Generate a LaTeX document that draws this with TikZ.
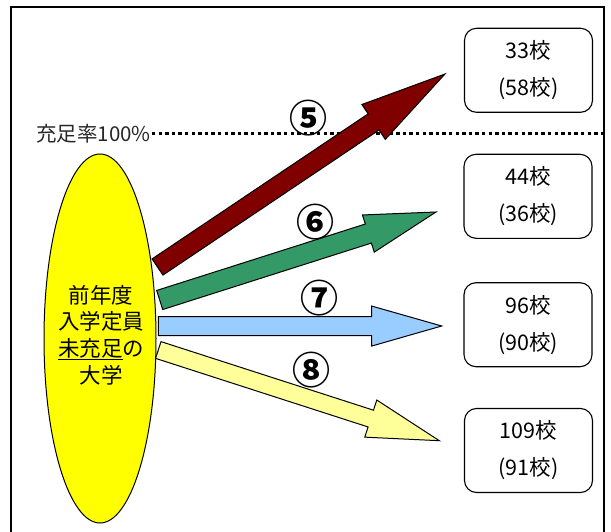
\documentclass[tikz,border=0pt]{standalone}
\usepackage{fontspec}
\newfontfamily\jp{Noto Sans CJK JP}
\usetikzlibrary{calc,shapes.geometric}
\definecolor{arrred}{HTML}{800000}
\definecolor{arrgreen}{HTML}{339966}
\definecolor{arrblue}{HTML}{99CCFF}
\definecolor{arryellow}{HTML}{FFFF99}
\definecolor{ellyellow}{HTML}{FFFF00}
\newcommand\myblockarrow[6]{%
  \coordinate (hb) at ($(#2)!#5!(#1)$);
  \filldraw[blk, fill=#6] ($(#1)!#3!90:(#2)$) -- ($(hb)!#3!-90:(#1)$) -- ($(hb)!#4!-90:(#1)$) -- (#2) -- ($(hb)!#4!90:(#1)$) -- ($(hb)!#3!90:(#1)$) -- ($(#1)!#3!-90:(#2)$) -- cycle;
}
\begin{document}
\begin{tikzpicture}[x=1pt,y=-1pt,
  boxnode/.style={draw, rounded corners=12pt, line width=1.1pt, minimum width=128pt, minimum height=84pt, inner sep=0pt, align=center, font=\jp\fontsize{21.5}{37}\selectfont},
  numlbl/.style={font=\jp\bfseries\fontsize{38}{38}\selectfont, inner sep=0pt},
  blk/.style={draw=black, line width=1pt, line join=miter}]
\useasboundingbox (0,0) rectangle (611,532);
% frame
\draw[line width=2pt] (11,545) -- (11,7) -- (604,7) -- (604,545);
% 100% line
\node[anchor=east, inner sep=0pt, font=\jp\fontsize{20.5}{20}\selectfont, text=black!85] (lbl) at (151,134) {充足率100\%};
\coordinate (lineend) at (604,134);
\draw[line width=3pt, dash pattern=on 3.3pt off 3.3pt] (lbl.east) ++(1,0) -- (lineend);
% ellipse
\node[ellipse, draw, line width=1pt, fill=ellyellow, minimum width=112pt, minimum height=369pt, inner sep=0pt] (ell) at (100,338.5) {};
\node[align=center, inner sep=0pt, font=\jp\fontsize{21.5}{26.7}\selectfont] (elltext) at (101,335) {前年度\\入学定員\\\underline{未充足}の\\大学};
% arrows
\coordinate (t5) at (157.5,267); \coordinate (h5) at (445,74);
\coordinate (t6) at (159.7,300); \coordinate (h6) at (436,212);
\coordinate (t7) at (158.3,326.2); \coordinate (h7) at (441.7,326);
\coordinate (t8) at (158.3,350); \coordinate (h8) at (439.3,440.7);
\myblockarrow{t5}{h5}{9.75pt}{21pt}{86pt}{arrred}
\myblockarrow{t6}{h6}{10pt}{19.5pt}{71pt}{arrgreen}
\myblockarrow{t7}{h7}{9.5pt}{20pt}{70pt}{arrblue}
\myblockarrow{t8}{h8}{8.8pt}{19.5pt}{72pt}{arryellow}
% labels
\node[numlbl] (n5) at (308,118) {⑤};
\node[numlbl] (n6) at (315,222) {⑥};
\node[numlbl] (n7) at (319,298) {⑦};
\node[numlbl] (n8) at (311,370) {⑧};
% boxes
\node[boxnode] (b1) at (528.5,70.3) {33校\\(58校)};
\node[boxnode] (b2) at (528,196.3) {44校\\(36校)};
\node[boxnode] (b3) at (528,324.7) {96校\\(90校)};
\node[boxnode] (b4) at (528.5,450.5) {109校\\(91校)};
\end{tikzpicture}
\end{document}
